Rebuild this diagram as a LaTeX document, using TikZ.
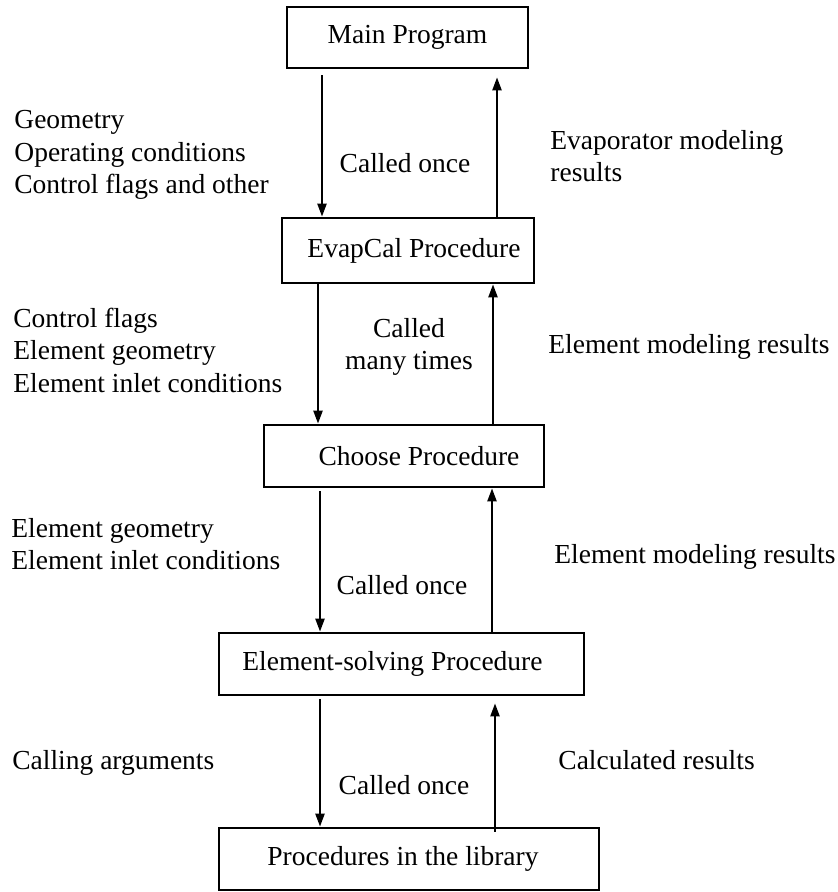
\documentclass[tikz,border=0pt]{standalone}
\usepackage{fontspec}
\setmainfont{Liberation Serif}
\usetikzlibrary{arrows.meta}
\usetikzlibrary{positioning}
\tikzset{
  every node/.style={font=\fontsize{13.75pt}{16.25pt}\selectfont},
  procbox/.style={draw, line width=1.35pt, inner sep=0, minimum height=31pt},
  note/.style={inner sep=0, align=left, anchor=west},
  calls/.style={inner sep=0, align=center},
  flow/.style={-{Triangle[length=6.5pt,width=4.5pt]}, line width=1.1pt}
}
\begin{document}
\begin{tikzpicture}[x=0.5pt,y=-0.5pt]
  \useasboundingbox (0,0) rectangle (837,892);

  % procedure boxes
  \node[procbox, minimum width=120.5pt, minimum height=30.5pt] (main) at (407.5,37.5) {Main Program};
  \node[procbox, minimum width=126pt, minimum height=32.5pt] (evap) at (408,250.5) {\hspace*{6pt}EvapCal Procedure};
  \node[procbox, minimum width=140pt] (choose) at (404,456) {\hspace*{15pt}Choose Procedure};
  \node[procbox, minimum width=182.5pt] (elem) at (401.5,664) {Element-solving Procedure\hspace*{9pt}};
  \node[procbox, minimum width=190pt] (lib) at (409,859) {Procedures in the library\hspace*{6pt}};

  % columns of the arrows
  \coordinate (dn1) at (322,0);
  \coordinate (up1) at (497,0);
  \coordinate (dn2) at (318,0);
  \coordinate (up2) at (493,0);
  \coordinate (dn3) at (320,0);
  \coordinate (up3) at (492,0);
  \coordinate (dn4) at (320,0);
  \coordinate (up4) at (495,0);

  \draw[flow] ([yshift=-3pt]main.south -| dn1) -- (evap.north -| dn1);
  \draw[flow] (evap.north -| up1) -- ([yshift=-4pt]main.south -| up1);
  \draw[flow] (evap.south -| dn2) -- (choose.north -| dn2);
  \draw[flow] (choose.north -| up2) -- (evap.south -| up2);
  \draw[flow] ([yshift=-1.5pt]choose.south -| dn3) -- (elem.north -| dn3);
  \draw[flow] (elem.north -| up3) -- (choose.south -| up3);
  \draw[flow] ([yshift=-1.5pt]elem.south -| dn4) -- (lib.north -| dn4);
  \draw[flow] ([yshift=-2.5pt]lib.north -| up4) -- ([yshift=-3.5pt]elem.south -| up4);

  % what goes down
  \node[note] (in1) at (14,155) {Geometry\\Operating conditions\\Control flags and other};
  \node[note] (in2) at (13,350) {Control flags\\Element geometry\\Element inlet conditions};
  \node[note] (in3) at (11,544) {Element geometry\\Element inlet conditions};
  \node[note] (in4) at (12,763) {Calling arguments};

  % how often
  \node[calls] (c1) at (405,163) {Called once};
  \node[calls] (c2) at (409,347) {Called\\many times};
  \node[calls] (c3) at (402,585) {Called once};
  \node[calls] (c4) at (404,785) {Called once};

  % what comes back
  \node[note] (out1) at (550,156) {Evaporator modeling\\results};
  \node[note] (out2) at (548,347) {Element modeling results};
  \node[note] (out3) at (554,557) {Element modeling results};
  \node[note] (out4) at (558,760) {Calculated results};
\end{tikzpicture}
\end{document}
